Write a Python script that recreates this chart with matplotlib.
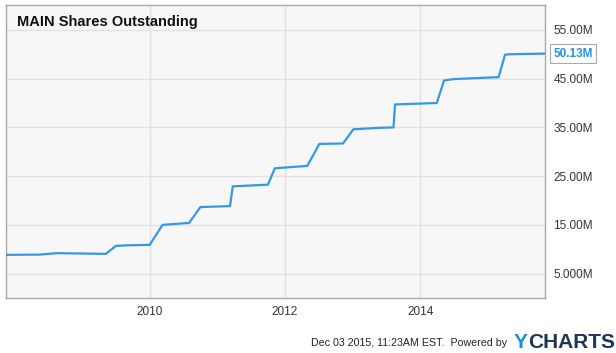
import pandas as pd
import matplotlib.pyplot as plt
import matplotlib.dates as mdates
from matplotlib.ticker import FuncFormatter

dates = [
    "2007-11-15", "2008-05-15", "2008-08-15", "2009-05-08", "2009-07-01",
    "2009-08-30", "2009-12-31", "2010-03-10", "2010-08-01", "2010-10-01",
    "2011-03-10", "2011-03-25", "2011-10-01", "2011-11-07", "2012-05-01",
    "2012-07-05", "2012-11-10", "2013-01-05", "2013-05-20", "2013-08-10",
    "2013-08-18", "2014-04-01", "2014-05-10", "2014-06-28", "2015-03-01",
    "2015-04-05", "2015-05-01", "2015-11-07",
]
shares_m = [
    8.85, 8.9, 9.2, 9.05, 10.7,
    10.8, 10.9, 15.0, 15.4, 18.65,
    18.85, 22.9, 23.25, 26.6, 27.1,
    31.6, 31.7, 34.6, 34.9, 35.0,
    39.7, 40.0, 44.6, 44.9, 45.3,
    49.9, 50.0, 50.13,
]
y_ticks = [5, 15, 25, 35, 45, 55]
x_ticks = ["2010-01-01", "2012-01-01", "2014-01-01"]
last_label = "50.13M"

plt.rcParams["font.family"] = ["Liberation Sans", "DejaVu Sans"]

df = pd.DataFrame({"Date": pd.to_datetime(dates), "Shares": shares_m})

fig = plt.figure(figsize=(6.16, 3.53), dpi=100)
ax = fig.add_axes([6 / 616, 1 - 298 / 353, 539 / 616, 293 / 353])
ax.set_facecolor("#f7f7f7")

ax.plot(df["Date"], df["Shares"], color="#3598e6", linewidth=1.6,
        solid_joinstyle="round", zorder=3)

ax.set_xlim(df["Date"].iloc[0], df["Date"].iloc[-1])
ax.set_ylim(0, 60.1)

ax.set_yticks(y_ticks)
ax.yaxis.set_major_formatter(FuncFormatter(lambda v, p: f"{v:#.4g}M"))
ax.yaxis.tick_right()
ax.set_xticks(pd.to_datetime(x_ticks))
ax.xaxis.set_major_formatter(mdates.DateFormatter("%Y"))
ax.tick_params(length=0, labelsize=8.5, labelcolor="#333333", pad=6)

ax.grid(True, color="#e2e2e2", linewidth=1)
for s in ax.spines.values():
    s.set_color("#a8a8a8")
    s.set_linewidth(1)

ax.text(0.02, 0.965, "MAIN Shares Outstanding", transform=ax.transAxes,
        fontsize=10.5, fontweight="bold", color="#111111", va="top", ha="left",
        zorder=4)

# last value tag on the right axis
ax.annotate(last_label, xy=(1.0, df["Shares"].iloc[-1]),
            xycoords=("axes fraction", "data"),
            xytext=(6, 0), textcoords="offset points",
            fontsize=8.5, fontweight="bold", color="#2a8ee0",
            va="center", ha="left", annotation_clip=False,
            bbox=dict(boxstyle="square,pad=0.3", fc="white", ec="#a8a8a8", lw=0.8))

# footer
fig.text(311 / 616, 1 - 343 / 353, "Dec 03 2015, 11:23AM EST.  Powered by",
         fontsize=7.7, color="#222222", va="center", ha="left")
logo_y = fig.text(514 / 616, 1 - 348 / 353, "Y", fontsize=15, fontweight="bold",
                  color="#1a8fd8", va="baseline", ha="left")
fig.text(0, 0, "", fontsize=1)
ax.annotate("CHARTS", xy=(1, 0), xycoords=logo_y, xytext=(0, 0),
            textcoords="offset points", fontsize=15, fontweight="bold",
            color="#1c3553", va="bottom", ha="left", annotation_clip=False)

fig.savefig("out.png", dpi=100)
